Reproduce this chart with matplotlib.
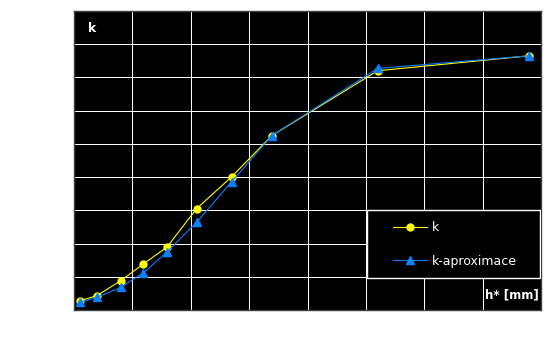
import numpy as np
import matplotlib.pyplot as plt
from matplotlib.patches import Rectangle

# h* [mm] (grid units, 8 divisions) and k values
h = [0.10, 0.39, 0.80, 1.19, 1.59, 2.10, 2.70, 3.39, 5.20, 7.79]
k = [0.28, 0.43, 0.88, 1.39, 1.89, 3.05, 4.01, 5.25, 7.20, 7.65]
k_aprox = [0.23, 0.38, 0.68, 1.12, 1.74, 2.64, 3.86, 5.25, 7.27, 7.65]

fig = plt.figure(figsize=(5.53, 3.42), dpi=100)
fig.patch.set_facecolor('white')
ax = fig.add_axes([74 / 553, 1 - 310 / 342, 467 / 553, 299 / 342])
ax.set_facecolor('black')

ax.plot(h, k, color='#ffff00', lw=0.8, marker='o', ms=5, label='k', zorder=3)
ax.plot(h, k_aprox, color='#0a7fff', lw=0.8, marker='^', ms=6,
        label='k-aproximace', zorder=3)

ax.set_xlim(0, 8)
ax.set_ylim(0, 9)
ax.set_xticks(np.arange(0, 9, 1))
ax.set_yticks(np.arange(0, 10, 1))
ax.grid(True, color='white', lw=0.72, antialiased=False)
ax.tick_params(length=0, labelbottom=False, labelleft=False)
for s in ax.spines.values():
    s.set_color('#404040')
    s.set_linewidth(1)

ax.text(0.03, 0.94, 'k', transform=ax.transAxes, color='white',
        fontsize=9, fontweight='bold', ha='left', va='center')
ax.text(0.995, 0.05, 'h* [mm]', transform=ax.transAxes, color='white',
        fontsize=8.5, fontweight='bold', ha='right', va='center', zorder=6)

# legend box
box = Rectangle((0.627, 0.106), 0.371, 0.227, transform=ax.transAxes,
                facecolor='black', edgecolor='white', lw=1, zorder=4)
ax.add_patch(box)
leg = ax.legend(loc='center left', bbox_to_anchor=((393 - 74) / 467, (310 - 244.5) / 299),
                frameon=False, fontsize=9, labelcolor='white',
                handlelength=2.7, borderpad=0, labelspacing=1.65,
                borderaxespad=0, handletextpad=0.4)
leg.set_zorder(5)

fig.savefig('out.png', dpi=100, facecolor='white')
